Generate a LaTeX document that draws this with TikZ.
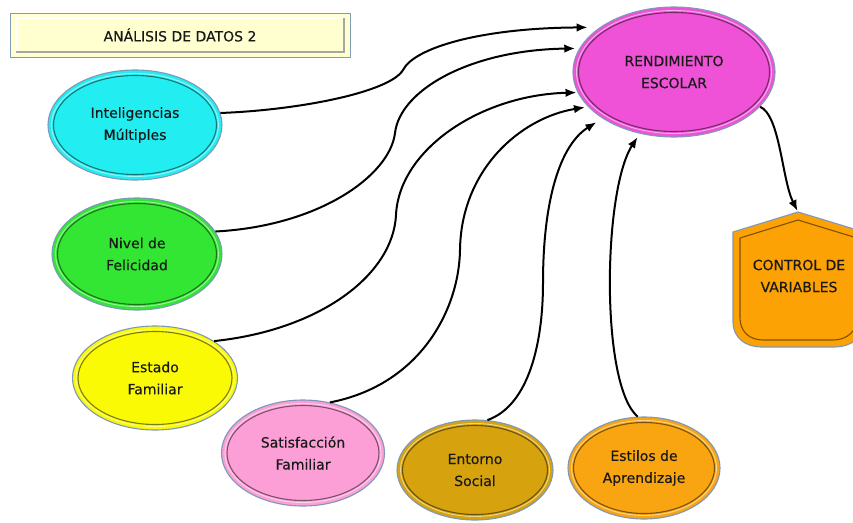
\documentclass[tikz,border=0pt]{standalone}
\usepackage{fontspec}
\setmainfont[FakeBold=0.35]{DejaVu Sans}
\usetikzlibrary{shapes.geometric,arrows.meta}
\definecolor{edgec}{HTML}{7E98B8}
\definecolor{cyanc}{HTML}{22EEF2}
\definecolor{greenc}{HTML}{33E633}
\definecolor{yellowc}{HTML}{FAFA05}
\definecolor{pinkc}{HTML}{FC9FD6}
\definecolor{goldc}{HTML}{D6A30E}
\definecolor{orangec}{HTML}{F9A511}
\definecolor{magc}{HTML}{EF52D6}
\definecolor{ctrlc}{HTML}{FCA205}
\definecolor{titlec}{HTML}{FFFFD0}
\definecolor{titleedge}{HTML}{7F9DB9}
\newcommand\mybub[7]{%
  \node[bub=#6, minimum width=#4pt, minimum height=#5pt] (#1) at (#2,#3) {#7};
  \draw[white, opacity=0.55, line width=0.9pt] (#2,#3) ellipse ({#4/2-3.5} and {#5/2-3.5});
  \draw[#6!50!black, line width=1.1pt] (#2,#3) ellipse ({#4/2-5.5} and {#5/2-5.5});
}
\begin{document}
\begin{tikzpicture}[x=1pt,y=-1pt,
  font=\fontsize{14}{22}\selectfont,
  bub/.style={ellipse, draw=edgec, line width=1.1pt, fill=#1, inner sep=0pt,
    align=center, text=black!90},
  titlebox/.style={rectangle, draw=titleedge, line width=1pt, fill=titlec,
    minimum width=340pt, minimum height=44pt, text=black!90},
  conn/.style={line width=2pt, -{Latex[length=11pt,width=8.5pt]}},
]
\useasboundingbox (0,0) rectangle (853,522);
\clip (0,0) rectangle (853,522);

% title
\node[titlebox] (title) at (180,35) {ANÁLISIS DE DATOS 2};
\draw[white, line width=1.5pt] (16,52) -- (16,18) -- (344,18);
\draw[black!35, line width=2pt] (344,18) -- (344,52) -- (16,52);

% ellipses
\mybub{intel}{135}{125}{174}{110}{cyanc}{Inteligencias\\Múltiples}
\mybub{nivel}{137}{254}{170}{112}{greenc}{Nivel de\\Felicidad}
\mybub{estado}{155}{378}{165}{104}{yellowc}{Estado\\Familiar}
\mybub{satisf}{303}{453}{163}{106}{pinkc}{Satisfacción\\Familiar}
\mybub{entorno}{475}{470}{156}{100}{goldc}{Entorno\\Social}
\mybub{estilos}{644}{468}{152}{102}{orangec}{Estilos de\\Aprendizaje}
\mybub{rend}{674}{72}{202}{130}{magc}{RENDIMIENTO\\ESCOLAR}

% control de variables
\fill[ctrlc] (798,212) -- (864,232) -- (864,322) .. controls (864,338) and (850,347) .. (835,347)
  -- (761,347) .. controls (746,347) and (733,338) .. (733,322) -- (733,232) -- cycle;
\draw[edgec, line width=1.1pt] (798,212) -- (864,232) -- (864,322) .. controls (864,338) and (850,347) .. (835,347)
  -- (761,347) .. controls (746,347) and (733,338) .. (733,322) -- (733,232) -- cycle;
\draw[ctrlc!50!black, line width=1.1pt] (798,220) -- (857,238) -- (857,318) .. controls (857,331) and (847,340) .. (833,340)
  -- (763,340) .. controls (749,340) and (740,331) .. (740,318) -- (740,238) -- cycle;
\node[align=center, text=black!90] (ctrl) at (799,276) {CONTROL DE\\VARIABLES};
\coordinate (ctrltop) at (798,212);

% connectors
\draw[conn, shorten >=12pt] (intel.8) .. controls (300,110) and (390,92) .. (403,70)
  .. controls (414,48) and (480,28) .. (rend.149);
\draw[conn, shorten >=4pt] (nivel.16) .. controls (320,226) and (390,175) .. (395,133)
  .. controls (400,90) and (470,50) .. (rend.166);
\draw[conn, shorten >=1pt] (estado.32) .. controls (320,330) and (393,275) .. (396,215)
  .. controls (399,150) and (480,95) .. (rend.192);
\draw[conn, shorten >=3pt] (satisf.62) .. controls (420,385) and (459,310) .. (460,250)
  .. controls (461,170) and (520,118) .. (rend.202);
\draw[conn, shorten >=7pt] (entorno.76) .. controls (530,405) and (543,340) .. (543,283)
  .. controls (543,200) and (560,145) .. (rend.213);
\draw[conn, shorten >=4pt] (estilos.97) .. controls (600,385) and (603,190) .. (rend.241);
\draw[conn, shorten >=1pt] (rend.338) .. controls (780,115) and (782,180) .. (ctrltop);
\end{tikzpicture}
\end{document}
